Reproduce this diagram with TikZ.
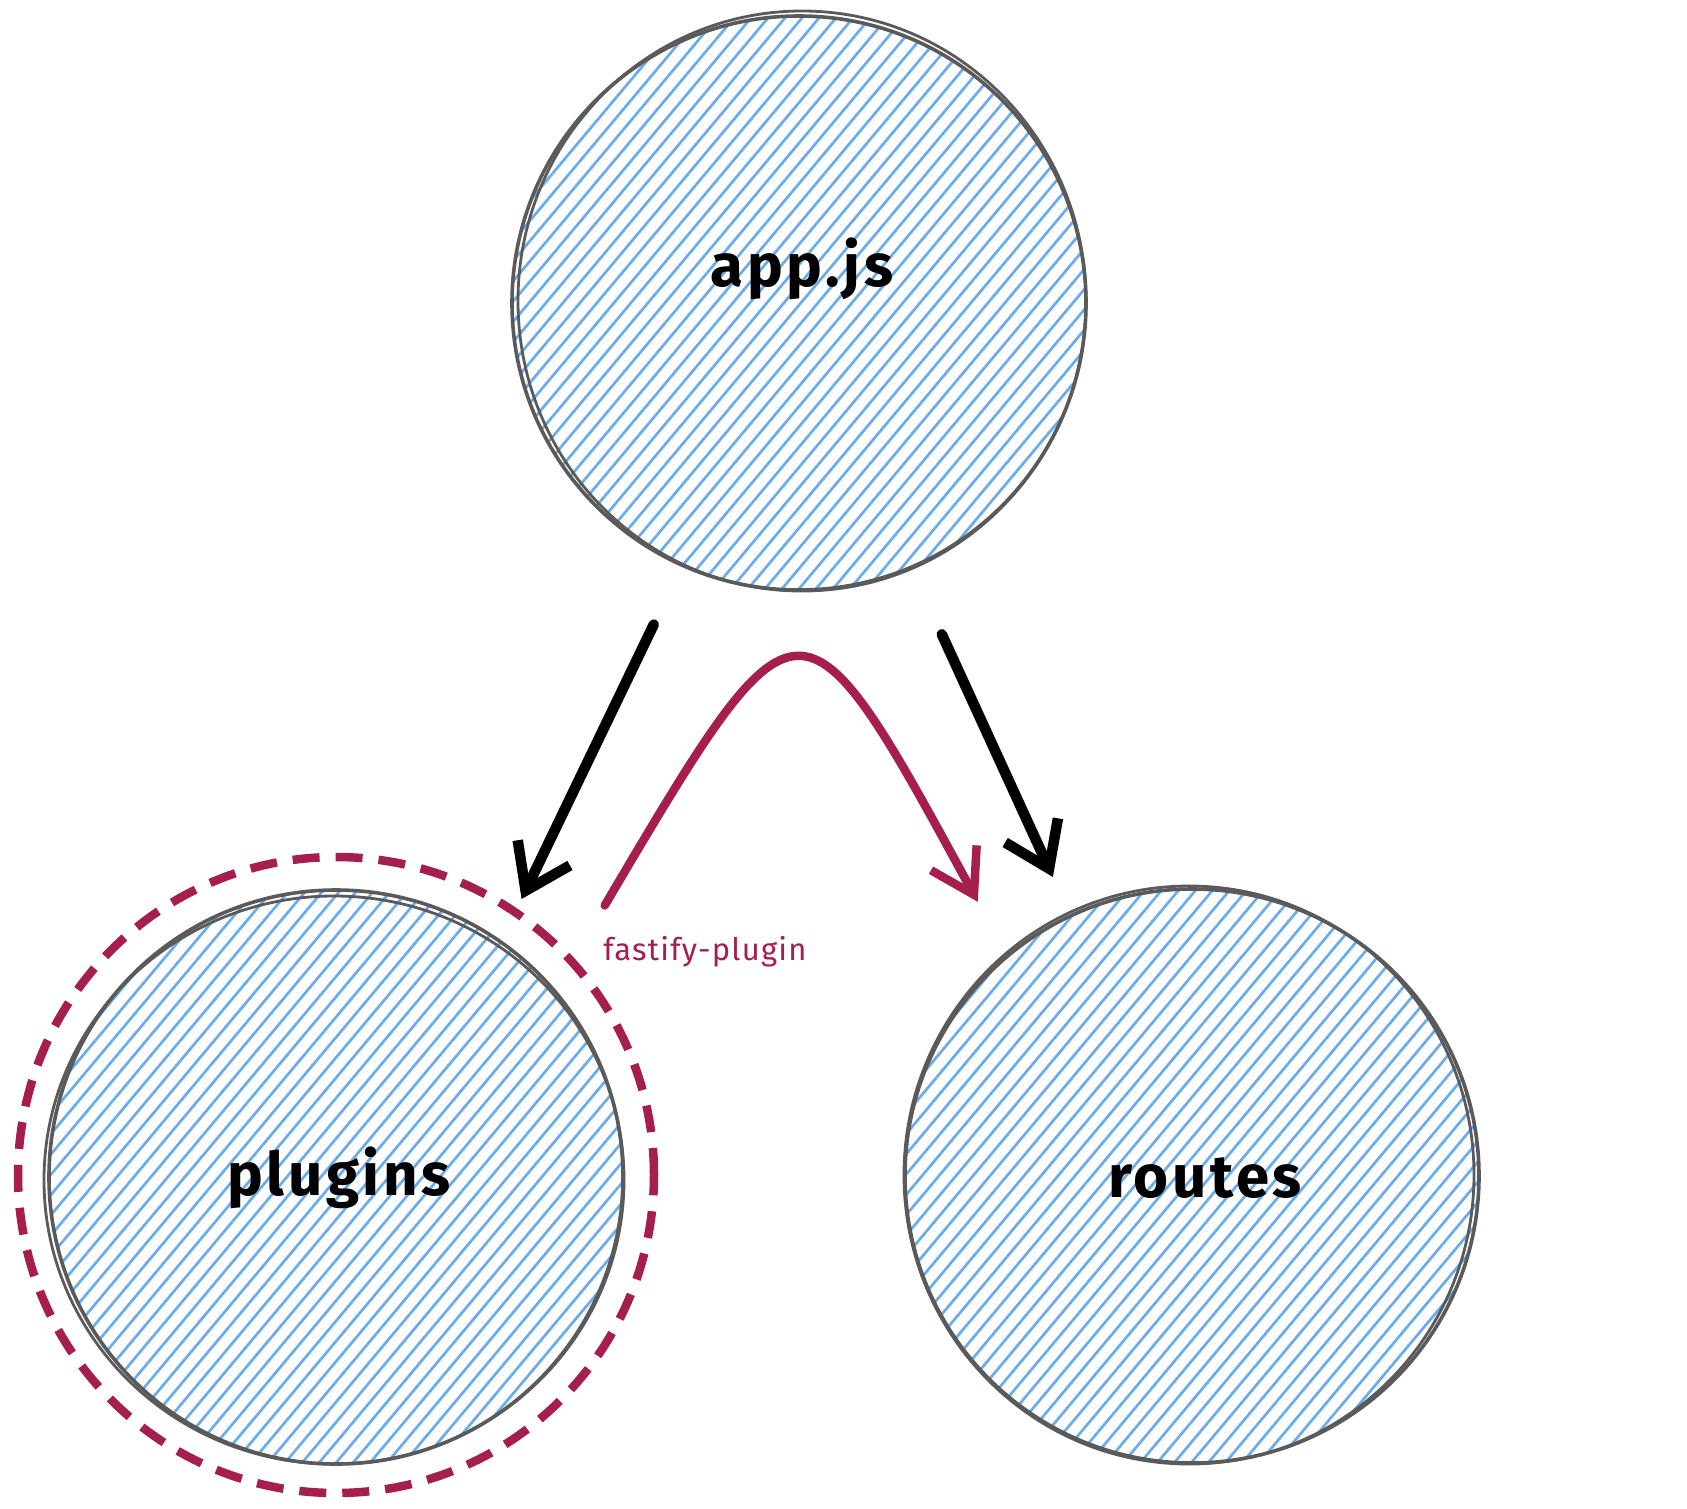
\documentclass[tikz,border=0pt]{standalone}
\usepackage{fontspec}
\setmainfont{Fira Sans}
\usetikzlibrary{arrows.meta,calc}
\definecolor{hatchblue}{HTML}{6AADEA}
\definecolor{outlinegray}{HTML}{5A5A5A}
\definecolor{fpred}{HTML}{A61E4D}
\tikzset{
  bubble/.style={circle, draw=outlinegray, line width=3.6pt, minimum size=574pt, inner sep=0pt,
    path picture={\foreach \i in {-700,-683,...,700}
      \draw[hatchblue, line width=2.7pt] ([xshift=\i pt]path picture bounding box.south west) -- ++(50:820pt);}},
  sketchline/.style={draw=outlinegray, line width=2.8pt},
  bubblelabel/.style={font=\fontsize{60}{66}\selectfont\bfseries\addfontfeatures{LetterSpace=6}, text=black, inner sep=0pt},
  flow/.style={line width=10.5pt, -{Straight Barb[length=42pt,width=58pt]}, line cap=round},
  pluginflow/.style={line width=8.5pt, draw=fpred, -{Straight Barb[length=42pt,width=52pt]}, line cap=round},
  wrapring/.style={circle, draw=fpred, line width=8.5pt, dash pattern=on 27pt off 16pt, minimum size=636pt, inner sep=0pt},
  smalllabel/.style={font=\fontsize{31}{34}\selectfont\addfontfeatures{LetterSpace=4}, text=fpred, inner sep=0pt}
}
\begin{document}
\begin{tikzpicture}[x=1pt,y=-1pt]
\useasboundingbox (0,0) rectangle (1687,1508);
% bubbles
\node[bubble] (app) at (799,303) {};
\node[bubble] (plugins) at (336,1177) {};
\node[bubble] (routes) at (1192,1176) {};
\draw[sketchline] ($(app.center)+(3pt,2pt)$) ellipse [x radius=284pt, y radius=290pt];
\draw[sketchline] ($(plugins.center)+(-2pt,-3pt)$) ellipse [x radius=290pt, y radius=284pt];
\draw[sketchline] ($(routes.center)+(-3pt,1pt)$) ellipse [x radius=285pt, y radius=289pt];
% dashed wrapper
\node[wrapring] (wrap) at (336,1175) {};
% labels
\node[bubblelabel] (applbl) at (802,269) {app.js};
\node[bubblelabel] (pluginslbl) at (339,1178) {plugins};
\node[bubblelabel] (routeslbl) at (1205,1178) {routes};
% connectors
\draw[flow, shorten <=64pt, shorten >=46pt] (app.246.5) -- (plugins.55);
\draw[flow, shorten <=72pt, shorten >=41pt] (app.293) -- (routes.115);
\coordinate (fpS) at ($(plugins.center)+(45.3:382pt)$);
\coordinate (fpE) at ($(routes.center)+(128:348pt)$);
\draw[pluginflow] (fpS) .. controls (800,575) and (800,575) .. (fpE);
\node[smalllabel] (fplbl) at (705,952) {fastify-plugin};
\end{tikzpicture}
\end{document}
